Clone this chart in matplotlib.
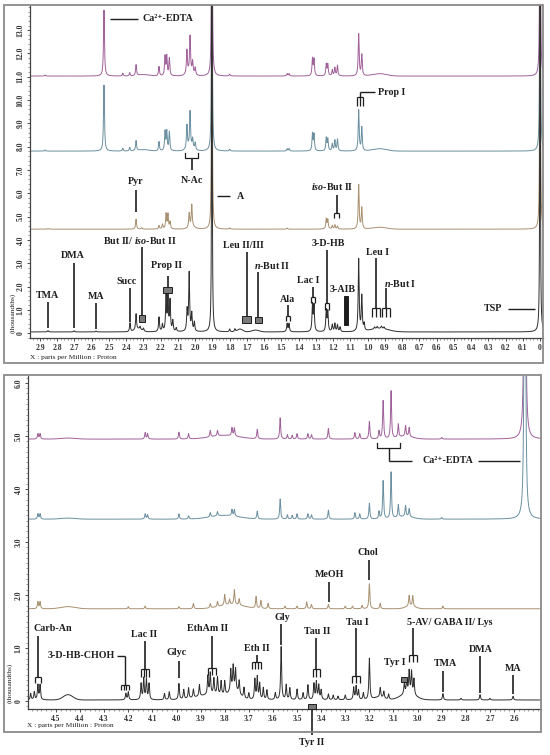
import numpy as np
import matplotlib
matplotlib.use("Agg")
import matplotlib.pyplot as plt
from matplotlib.patches import Rectangle
from matplotlib.ticker import MultipleLocator

plt.rcParams['font.family'] = ['Liberation Serif', 'DejaVu Serif']
plt.rcParams['mathtext.fontset'] = 'custom'
plt.rcParams['mathtext.rm'] = 'Liberation Serif:bold'
plt.rcParams['mathtext.bf'] = 'Liberation Serif:bold'
plt.rcParams['mathtext.it'] = 'Liberation Serif:italic:bold'

# ---------------- data ----------------
trace_names = ["purple", "blue", "tan", "black"]
trace_colors = ["#a0609a", "#6a8fa0", "#a89070", "#2e2e2e"]

# top panel (0 - 2.9 ppm), baseline offsets (thousandths)
top_offsets = [11.03, 7.81, 4.46, 0.05]
top_xticks = [2.9, 2.8, 2.7, 2.6, 2.5, 2.4, 2.3, 2.2, 2.1, 2.0, 1.9, 1.8, 1.7,
              1.6, 1.5, 1.4, 1.3, 1.2, 1.1, 1.0, 0.9, 0.8, 0.7, 0.6, 0.5, 0.4,
              0.3, 0.2, 0.1, 0.0]
top_xticklabels = ["2.9", "2.8", "2.7", "2.6", "2.5", "2.4", "2.3", "2.2", "2.1",
                   "2.0", "1.9", "1.8", "1.7", "1.6", "1.5", "1.4", "1.3", "1.2",
                   "1.1", "1.0", "0.9", "0.8", "0.7", "0.6", "0.5", "0.4", "0.3",
                   "0.2", "0.1", "0"]
top_yticks = [0, 1, 2, 3, 4, 5, 6, 7, 8, 9, 10, 11, 12, 13]
top_yticklabels = ["0", "1.0", "2.0", "3.0", "4.0", "5.0", "6.0", "7.0", "8.0",
                   "9.0", "10.0", "11.0", "12.0", "13.0"]

top_purple_ppm = [2.87, 2.529, 2.42, 2.38, 2.343, 2.21, 2.175, 2.165, 2.15, 2.048,
                  2.03, 2.015, 2.0, 1.903, 1.80, 1.467, 1.456, 1.32, 1.311, 1.24,
                  1.231, 1.205, 1.19, 1.175, 1.052, 1.034, 0.0]
top_purple_h = [0.05, 2.83, 0.12, 0.14, 0.47, 0.4, 0.82, 0.82, 0.75, 1.0,
                1.55, 0.5, 0.3, 25, 0.08, 0.1, 0.1, 0.73, 0.7, 0.5,
                0.48, 0.25, 0.35, 0.45, 1.8, 0.9, 25]
top_purple_broad_ppm = [2.03, 2.3, 0.93]
top_purple_broad_h = [0.15, 0.06, 0.1]
top_purple_broad_w = [0.02, 0.03, 0.04]

top_blue_ppm = [2.87, 2.529, 2.42, 2.38, 2.343, 2.21, 2.175, 2.165, 2.15, 2.048,
                2.03, 2.015, 2.0, 1.903, 1.80, 1.467, 1.456, 1.32, 1.311, 1.24,
                1.231, 1.205, 1.19, 1.175, 1.052, 1.034, 0.0]
top_blue_h = [0.05, 2.83, 0.12, 0.15, 0.43, 0.4, 0.82, 0.82, 0.8, 1.0,
              1.54, 0.4, 0.3, 25, 0.08, 0.1, 0.1, 0.73, 0.7, 0.55,
              0.5, 0.3, 0.45, 0.5, 1.75, 1.0, 25]
top_blue_broad_ppm = [2.03, 2.3, 0.93]
top_blue_broad_h = [0.15, 0.06, 0.1]
top_blue_broad_w = [0.02, 0.03, 0.04]

top_tan_ppm = [2.854, 2.343, 2.31, 2.21, 2.19, 2.169, 2.158, 2.146, 2.035, 2.02,
               1.903, 1.80, 1.467, 1.24, 1.231, 1.205, 1.19, 1.175, 1.052, 1.034,
               0.0]
top_tan_h = [0.03, 0.43, 0.06, 0.15, 0.2, 0.65, 0.62, 0.3, 0.6, 0.95,
             25, 0.05, 0.05, 0.43, 0.4, 0.15, 0.18, 0.12, 1.9, 0.9,
             25]
top_tan_broad_ppm = [2.02, 0.93]
top_tan_broad_h = [0.1, 0.08]
top_tan_broad_w = [0.02, 0.04]

top_black_ppm = [2.854, 2.703, 2.575, 2.378, 2.343, 2.32, 2.30, 2.21, 2.19, 2.169,
                 2.158, 2.146, 2.13, 2.11, 2.047, 2.035, 2.02, 2.005, 1.903, 1.80,
                 1.77, 1.467, 1.456, 1.32, 1.311, 1.24, 1.231, 1.205, 1.19, 1.175,
                 1.16, 1.052, 1.034, 1.02, 0.96, 0.945, 0.92, 0.905, 0.0]
top_black_h = [0.06, 0.05, 0.04, 0.38, 0.68, 0.12, 0.12, 0.62, 0.3, 1.5,
               1.45, 1.3, 0.45, 0.15, 0.9, 2.5, 0.75, 0.4, 25, 0.12,
               0.12, 0.35, 0.35, 1.15, 1.1, 0.9, 0.85, 0.3, 0.35, 0.3,
               0.2, 3.1, 1.5, 0.3, 0.08, 0.08, 0.1, 0.08, 25]
top_black_broad_ppm = [2.33, 1.74, 1.65, 0.93]
top_black_broad_h = [0.12, 0.12, 0.08, 0.15]
top_black_broad_w = [0.02, 0.015, 0.02, 0.05]

# bottom panel (2.5 - 4.6 ppm)
bot_offsets = [4.94, 3.43, 1.74, 0.02]
bot_xticks = [4.5, 4.4, 4.3, 4.2, 4.1, 4.0, 3.9, 3.8, 3.7, 3.6, 3.5, 3.4, 3.3,
              3.2, 3.1, 3.0, 2.9, 2.8, 2.7, 2.6]
bot_xticklabels = ["4.5", "4.4", "4.3", "4.2", "4.1", "4.0", "3.9", "3.8", "3.7",
                   "3.6", "3.5", "3.4", "3.3", "3.2", "3.1", "3.0", "2.9", "2.8",
                   "2.7", "2.6"]
bot_yticks = [0, 1, 2, 3, 4, 5, 6]
bot_yticklabels = ["0", "1.0", "2.0", "3.0", "4.0", "5.0", "6.0"]

bot_purple_ppm = [4.575, 4.566, 4.13, 4.12, 3.99, 3.95, 3.86, 3.83, 3.77, 3.76,
                  3.665, 3.57, 3.54, 3.52, 3.50, 3.455, 3.44, 3.37, 3.26, 3.24,
                  3.2, 3.16, 3.143, 3.11, 3.08, 3.05, 3.035, 2.9, 2.555]
bot_purple_h = [0.1, 0.1, 0.12, 0.1, 0.13, 0.1, 0.12, 0.1, 0.15, 0.15,
                0.18, 0.4, 0.08, 0.07, 0.1, 0.1, 0.08, 0.2, 0.12, 0.1,
                0.33, 0.15, 0.72, 0.9, 0.25, 0.2, 0.17, 0.03, 25]
bot_purple_broad_ppm = [3.8, 4.45, 3.05]
bot_purple_broad_h = [0.07, 0.02, 0.05]
bot_purple_broad_w = [0.06, 0.03, 0.03]

bot_blue_ppm = [4.575, 4.566, 4.13, 4.12, 3.99, 3.95, 3.86, 3.83, 3.77, 3.76,
                3.665, 3.57, 3.54, 3.52, 3.50, 3.455, 3.44, 3.37, 3.26, 3.24,
                3.2, 3.16, 3.143, 3.11, 3.08, 3.05, 3.035, 2.9, 2.555]
bot_blue_h = [0.1, 0.1, 0.1, 0.08, 0.1, 0.06, 0.08, 0.08, 0.12, 0.12,
              0.15, 0.38, 0.08, 0.07, 0.1, 0.1, 0.08, 0.17, 0.12, 0.1,
              0.3, 0.14, 0.72, 0.88, 0.24, 0.2, 0.15, 0.03, 25]
bot_blue_broad_ppm = [3.8, 4.45, 3.05]
bot_blue_broad_h = [0.07, 0.02, 0.05]
bot_blue_broad_w = [0.06, 0.03, 0.03]

bot_tan_ppm = [4.575, 4.566, 4.2, 4.13, 3.99, 3.93, 3.86, 3.83, 3.80, 3.78,
               3.76, 3.74, 3.67, 3.65, 3.62, 3.55, 3.5, 3.46, 3.44, 3.37,
               3.3, 3.27, 3.23, 3.2, 3.155, 3.035, 3.02, 2.895]
bot_tan_h = [0.13, 0.13, 0.04, 0.05, 0.04, 0.1, 0.08, 0.1, 0.2, 0.1,
             0.28, 0.12, 0.22, 0.15, 0.1, 0.05, 0.05, 0.13, 0.08, 0.08,
             0.05, 0.05, 0.06, 0.47, 0.1, 0.2, 0.2, 0.05]
bot_tan_broad_ppm = [4.45, 3.77, 3.03]
bot_tan_broad_h = [0.04, 0.08, 0.05]
bot_tan_broad_w = [0.03, 0.05, 0.02]

bot_black_ppm = [4.605, 4.59, 4.575, 4.566, 4.21, 4.2, 4.147, 4.136, 4.125, 4.114,
                 4.05, 4.03, 3.99, 3.97, 3.95, 3.93, 3.905, 3.87, 3.86, 3.845,
                 3.83, 3.815, 3.8, 3.775, 3.765, 3.755, 3.74, 3.72, 3.70, 3.675,
                 3.665, 3.655, 3.64, 3.625, 3.59, 3.566, 3.545, 3.53, 3.50, 3.475,
                 3.455, 3.43, 3.42, 3.41, 3.40, 3.37, 3.35, 3.33, 3.30, 3.265,
                 3.255, 3.245, 3.225, 3.2, 3.155, 3.14, 3.12, 3.055, 3.045, 3.035,
                 3.025, 3.015, 2.895, 2.82, 2.741, 2.70, 2.604]
bot_black_h = [0.12, 0.15, 0.28, 0.28, 0.12, 0.15, 0.3, 0.4, 0.38, 0.3,
               0.12, 0.15, 0.3, 0.18, 0.2, 0.16, 0.22, 0.35, 0.4, 0.3,
               0.33, 0.26, 0.26, 0.4, 0.45, 0.4, 0.25, 0.2, 0.12, 0.38,
               0.42, 0.3, 0.22, 0.18, 0.13, 1.0, 0.28, 0.22, 0.2, 0.13,
               0.28, 0.3, 0.33, 0.27, 0.18, 0.11, 0.09, 0.07, 0.09, 0.23,
               0.25, 0.18, 0.13, 0.78, 0.18, 0.13, 0.1, 0.2, 0.25, 0.42,
               0.42, 0.3, 0.12, 0.03, 0.1, 0.03, 0.07]
bot_black_broad_ppm = [4.45, 3.85, 3.76, 3.04, 3.16]
bot_black_broad_h = [0.1, 0.1, 0.15, 0.12, 0.05]
bot_black_broad_w = [0.02, 0.06, 0.02, 0.03, 0.02]

# ---------------- helpers ----------------
W, H = 550, 755
INK = "#1e1e1e"
CA_EDTA = "Ca\u00b2\u207a-EDTA"
fig = plt.figure(figsize=(W / 100, H / 100), dpi=100)


def px_axes(l, r, t, b):
    return fig.add_axes([l / W, 1 - b / H, (r - l) / W, (b - t) / H])


def frame(l, r, t, b):
    fig.add_artist(Rectangle((l / W, 1 - b / H), (r - l) / W, (b - t) / H,
                             transform=fig.transFigure, fill=False,
                             edgecolor="#8a8a8a", lw=1.3))


def spectrum(x, ppm, h, w, bppm, bh, bw):
    y = np.zeros_like(x)
    for p, a in zip(ppm, h):
        ww = w if a < 10 else 0.0016
        y += a / (1 + ((x - p) / ww) ** 2)
    for p, a, ww in zip(bppm, bh, bw):
        y += a * np.exp(-0.5 * ((x - p) / ww) ** 2)
    return y


def style_axes(ax, xticks, xlabels, yticks, ylabels, xminor, yminor):
    for s in ("top", "right"):
        ax.spines[s].set_visible(False)
    for s in ("left", "bottom"):
        ax.spines[s].set_color("#444444")
        ax.spines[s].set_linewidth(0.9)
    ax.set_xticks(xticks)
    ax.set_xticklabels(xlabels, fontsize=5.5, fontweight="bold")
    ax.set_yticks(yticks)
    ax.set_yticklabels(ylabels, fontsize=5.5, fontweight="bold", rotation=90,
                       va="center")
    ax.xaxis.set_minor_locator(MultipleLocator(xminor))
    ax.yaxis.set_minor_locator(MultipleLocator(yminor))
    ax.tick_params(which="major", direction="out", length=2.5, width=0.6,
                   pad=1.5, colors="#333333")
    ax.tick_params(which="minor", direction="out", length=1.3, width=0.4,
                   colors="#555555")
    ax.patch.set_alpha(0)


def stem(ax, x, y0, y1, lw=1.2):
    ax.plot([x, x], [y0, y1], color=INK, lw=lw, solid_capstyle="butt",
            clip_on=False)


def hline(ax, x0, x1, y, lw=1.0):
    ax.plot([x0, x1], [y, y], color=INK, lw=lw, solid_capstyle="butt",
            clip_on=False)


def fork(ax, x, ytop, ybot, half, n):
    hline(ax, x - half, x + half, ytop, lw=0.9)
    for xx in np.linspace(x - half, x + half, n):
        ax.plot([xx, xx], [ytop, ybot], color=INK, lw=0.9,
                solid_capstyle="butt", clip_on=False)


def upbracket(ax, x, ybar, ytick, half):
    ax.plot([x - half, x - half, x + half, x + half], [ytick, ybar, ybar, ytick],
            color=INK, lw=0.9, clip_on=False)


def box(ax, x, ytop, ybot, half, fc="#7a7a7a"):
    ax.add_patch(Rectangle((x - half, ybot), 2 * half, ytop - ybot, facecolor=fc,
                           edgecolor=INK, lw=0.7, clip_on=False, zorder=5))


def label(ax, x, y, s, ha="center", size=7.2):
    ax.text(x, y, s, ha=ha, va="center", fontsize=size, fontweight="bold",
            color=INK, clip_on=False, zorder=6)


# ---------------- top panel ----------------
frame(4, 543, 5, 363)
top = px_axes(30, 543, 5, 338)
xt = np.linspace(2.958, -0.017, 30000)
top_sets = [
    (top_purple_ppm, top_purple_h, top_purple_broad_ppm, top_purple_broad_h, top_purple_broad_w),
    (top_blue_ppm, top_blue_h, top_blue_broad_ppm, top_blue_broad_h, top_blue_broad_w),
    (top_tan_ppm, top_tan_h, top_tan_broad_ppm, top_tan_broad_h, top_tan_broad_w),
    (top_black_ppm, top_black_h, top_black_broad_ppm, top_black_broad_h, top_black_broad_w),
]
for (pp, hh, bp, bh, bw), off, col in zip(top_sets, top_offsets, trace_colors):
    top.plot(xt, off + spectrum(xt, pp, hh, 0.0032, bp, bh, bw), color=col, lw=0.7)
top.set_xlim(2.958, -0.017)
top.set_ylim(-0.21, 14.08)
style_axes(top, top_xticks, top_xticklabels, top_yticks, top_yticklabels, 0.02, 0.2)

label(top, 2.854, 1.63, "TMA"); stem(top, 2.854, 1.33, 0.21)
label(top, 2.709, 3.35, "DMA"); stem(top, 2.703, 3.0, 0.21)
label(top, 2.575, 1.55, "MA"); stem(top, 2.575, 1.29, 0.17)
label(top, 2.396, 2.23, "Succ"); stem(top, 2.378, 1.93, 0.47)
label(top, 2.32, 3.99, r"But II/ $\mathit{iso}$-But II"); stem(top, 2.309, 3.69, 0.77)
box(top, 2.309, 0.77, 0.47, 0.017)
label(top, 2.164, 2.88, "Prop II"); stem(top, 2.158, 2.45, 1.97)
box(top, 2.158, 1.97, 1.72, 0.026)
label(top, 2.343, 6.52, "Pyr"); stem(top, 2.343, 6.14, 5.19)
upbracket(top, 2.021, 7.51, 7.73, 0.04); stem(top, 2.021, 7.51, 7.0)
label(top, 2.021, 6.57, "N-Ac")
hline(top, 1.874, 1.798, 5.88); label(top, 1.757, 5.88, "A", ha="left")
label(top, 1.72, 3.75, "Leu II/III"); stem(top, 1.70, 3.48, 0.73)
box(top, 1.70, 0.73, 0.45, 0.026)
label(top, 1.555, 2.88, r"$\mathit{n}$-But II"); stem(top, 1.633, 2.62, 0.69)
box(top, 1.633, 0.69, 0.43, 0.023)
label(top, 1.462, 1.46, "Ala"); stem(top, 1.461, 1.2, 0.73)
fork(top, 1.461, 0.73, 0.5, 0.012, 2)
label(top, 1.346, 2.27, "Lac I"); stem(top, 1.317, 1.97, 1.54)
fork(top, 1.317, 1.54, 1.3, 0.012, 2)
label(top, 1.23, 3.86, "3-D-HB"); stem(top, 1.236, 3.56, 1.29)
fork(top, 1.236, 1.29, 1.0, 0.014, 2)
label(top, 1.143, 1.89, "3-AIB"); box(top, 1.1255, 1.59, 0.34, 0.0115, fc=INK)
label(top, 0.94, 3.48, "Leu I"); stem(top, 0.951, 3.22, 1.07)
fork(top, 0.951, 1.07, 0.69, 0.023, 3)
label(top, 0.812, 2.15, r"$\mathit{n}$-But I"); stem(top, 0.893, 1.93, 1.07)
fork(top, 0.893, 1.07, 0.69, 0.023, 3)
label(top, 1.206, 6.27, r"$\mathit{iso}$-But II"); stem(top, 1.18, 5.92, 5.15)
fork(top, 1.18, 5.15, 4.95, 0.015, 2)
label(top, 0.273, 1.07, "TSP"); hline(top, 0.186, 0.029, 1.03)
fork(top, 1.044, 10.13, 9.74, 0.017, 3); stem(top, 1.044, 10.34, 10.13, lw=1.0)
hline(top, 1.044, 0.957, 10.34); label(top, 0.94, 10.34, "Prop I", ha="left")
hline(top, 2.494, 2.332, 13.48)
label(top, 2.303, 13.48, CA_EDTA, ha="left")

fig.text(30 / W, 1 - 357 / H, "X : parts per Million : Proton", fontsize=5.3,
         ha="left", va="center", color=INK)
fig.text(13 / W, 1 - 313 / H, "(thousandths)", fontsize=5.3, rotation=90,
         ha="center", va="center", color=INK)

# ---------------- bottom panel ----------------
frame(4, 541, 375, 732)
bot = px_axes(28, 541, 376, 709)
xb = np.linspace(4.616, 2.488, 30000)
bot_sets = [
    (bot_purple_ppm, bot_purple_h, bot_purple_broad_ppm, bot_purple_broad_h, bot_purple_broad_w),
    (bot_blue_ppm, bot_blue_h, bot_blue_broad_ppm, bot_blue_broad_h, bot_blue_broad_w),
    (bot_tan_ppm, bot_tan_h, bot_tan_broad_ppm, bot_tan_broad_h, bot_tan_broad_w),
    (bot_black_ppm, bot_black_h, bot_black_broad_ppm, bot_black_broad_h, bot_black_broad_w),
]
for (pp, hh, bp, bh, bw), off, col in zip(bot_sets, bot_offsets, trace_colors):
    bot.plot(xb, off + spectrum(xb, pp, hh, 0.0024, bp, bh, bw), color=col, lw=0.7)
bot.set_xlim(4.616, 2.488)
bot.set_ylim(-0.15, 6.13)
style_axes(bot, bot_xticks, bot_xticklabels, bot_yticks, bot_yticklabels, 0.02, 0.1)

label(bot, 4.512, 1.36, "Carb-An"); stem(bot, 4.575, 1.23, 0.45)
fork(bot, 4.575, 0.45, 0.34, 0.012, 2)
label(bot, 4.255, 0.85, "3-D-HB-CHOH", ha="right"); hline(bot, 4.247, 4.214, 0.85)
stem(bot, 4.214, 0.85, 0.3, lw=1.0); fork(bot, 4.214, 0.3, 0.2, 0.016, 4)
label(bot, 4.135, 1.26, "Lac II"); stem(bot, 4.131, 1.13, 0.6)
fork(bot, 4.131, 0.6, 0.45, 0.017, 4)
label(bot, 3.998, 0.91, "Glyc"); stem(bot, 3.99, 0.75, 0.43)
label(bot, 3.873, 1.36, "EthAm II"); stem(bot, 3.853, 1.23, 0.62)
fork(bot, 3.853, 0.62, 0.49, 0.017, 3)
label(bot, 3.666, 1.0, "Eth II"); stem(bot, 3.668, 0.87, 0.74)
fork(bot, 3.668, 0.74, 0.6, 0.019, 4)
label(bot, 3.562, 1.58, "Gly"); stem(bot, 3.566, 1.45, 1.06)
label(bot, 3.417, 1.32, "Tau II"); stem(bot, 3.42, 1.19, 0.6)
fork(bot, 3.42, 0.6, 0.45, 0.015, 3)
label(bot, 3.251, 1.49, "Tau I"); stem(bot, 3.255, 1.38, 0.47)
fork(bot, 3.255, 0.47, 0.34, 0.017, 3)
label(bot, 3.093, 0.72, "Tyr I"); box(bot, 3.056, 0.45, 0.36, 0.012)
label(bot, 2.865, 1.49, "5-AV/ GABA II/ Lys"); stem(bot, 3.019, 1.38, 0.87)
fork(bot, 3.019, 0.87, 0.74, 0.017, 3)
label(bot, 2.886, 0.7, "TMA"); stem(bot, 2.894, 0.57, 0.17)
label(bot, 2.736, 0.98, "DMA"); stem(bot, 2.741, 0.85, 0.15)
label(bot, 2.604, 0.62, "MA"); stem(bot, 2.604, 0.49, 0.13)
box(bot, 3.438, -0.06, -0.15, 0.017); stem(bot, 3.438, -0.15, -0.64)
label(bot, 3.438, -0.79, "Tyr II")
label(bot, 3.367, 2.38, "MeOH"); stem(bot, 3.367, 2.25, 1.87)
label(bot, 3.205, 2.81, "Chol"); stem(bot, 3.201, 2.66, 2.28)
upbracket(bot, 3.12, 4.77, 4.87, 0.048); stem(bot, 3.12, 4.77, 4.53, lw=1.0)
hline(bot, 3.12, 3.023, 4.53)
label(bot, 2.981, 4.53, CA_EDTA, ha="left")
hline(bot, 2.749, 2.575, 4.53)

fig.text(27 / W, 1 - 726 / H, "X : parts per Million : Proton", fontsize=5.3,
         ha="left", va="center", color=INK)
fig.text(10 / W, 1 - 683 / H, "(thousandths)", fontsize=5.3, rotation=90,
         ha="center", va="center", color=INK)

fig.savefig("out.png", dpi=100)
